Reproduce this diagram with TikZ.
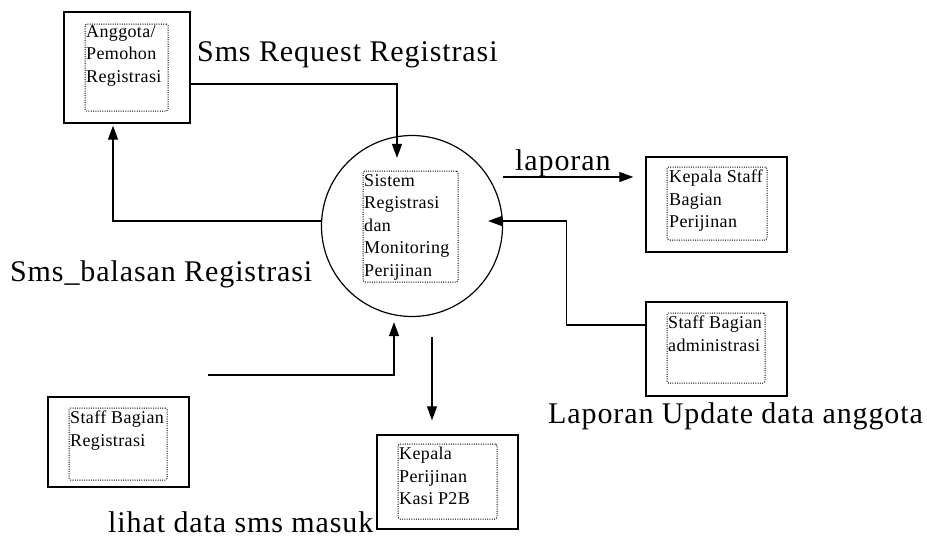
\documentclass[tikz,border=0pt]{standalone}
\usepackage{fontspec}
\setmainfont{Liberation Serif}
\usetikzlibrary{arrows.meta}
\begin{document}
\begin{tikzpicture}[x=1pt,y=-1pt,
  ent/.style={draw,line width=1.4pt,minimum width=#1,inner sep=0pt},
  dot/.style={draw,dash pattern=on 1pt off 1.3pt,line width=1pt,inner sep=0pt,rounded corners=1.5pt},
  small/.style={font=\fontsize{18}{22.5}\selectfont\addfontfeature{LetterSpace=2},align=left,inner sep=0pt,anchor=north west},
  lbl/.style={font=\fontsize{30}{34}\selectfont\addfontfeature{LetterSpace=3},inner sep=0pt,anchor=base west},
  conn/.style={line width=1.3pt},
  arr/.style={conn,-{Triangle[width=10pt,length=14pt]}}]
\useasboundingbox (0,0) rectangle (927,542);
% entities (outer boxes)
\node[ent=126pt,minimum height=111pt] (A) at (127,67.5) {};
\node[ent=141pt,minimum height=95pt] (KS) at (716.5,204.5) {};
\node[ent=141pt,minimum height=94pt] (SA) at (716.5,349) {};
\node[ent=141pt,minimum height=90pt] (SR) at (118.5,442) {};
\node[ent=141pt,minimum height=94pt] (KP) at (447.5,482) {};
% process circle
\node[draw,circle,line width=1.2pt,minimum size=181pt,inner sep=0pt] (C) at (412,226) {};
% dotted inner boxes
\node[dot,minimum width=83pt,minimum height=87pt] (Ad) at (126.5,67.5) {};
\node[dot,minimum width=100pt,minimum height=73pt] (KSd) at (717,203.5) {};
\node[dot,minimum width=98pt,minimum height=70pt] (SAd) at (716,348) {};
\node[dot,minimum width=98pt,minimum height=72pt] (SRd) at (118,444) {};
\node[dot,minimum width=99pt,minimum height=75pt] (KPd) at (447.5,481.5) {};
\node[dot,minimum width=95pt,minimum height=111pt] (Cd) at (410.5,226.5) {};
% texts
\node[small] (At) at (86,25) {Anggota/\\Pemohon\\Registrasi};
\node[small] (KSt) at (669,170) {Kepala Staff\\Bagian\\Perijinan};
\node[small] (SAt) at (668,316) {Staff Bagian\\administrasi};
\node[small] (SRt) at (70,411) {Staff Bagian\\Registrasi};
\node[small] (KPt) at (399,447) {Kepala\\Perijinan\\Kasi P2B};
\node[small] (Ct) at (364,174) {Sistem\\Registrasi\\dan\\Monitoring\\Perijinan};
% labels
\node[lbl] (L1) at (197,61) {Sms Request Registrasi};
\node[lbl] (L2) at (515,170) {laporan};
\node[lbl] (L3) at (10,281) {Sms\_balasan Registrasi};
\node[lbl] (L4) at (548,423) {Laporan Update data anggota};
\node[lbl] (L5) at (108,532) {lihat data sms masuk};
% connectors
\draw[arr] ([yshift=-16.5pt]A.east) -| ([xshift=-15pt,yshift=-23pt]C.north);
\draw[arr] ([yshift=49pt]C.east) -- ([xshift=-12pt,yshift=27.5pt]KS.west);
\draw[arr] ([yshift=24pt]SA.west) -- ++(-79,0) |- ([xshift=-15pt,yshift=5pt]C.east);
\draw[arr] ([yshift=5pt]C.west) -| ([xshift=-14pt,yshift=-2pt]A.south);
\coordinate (r0) at (208,375);
\draw[arr] (r0) -| ([xshift=-18pt,yshift=-5pt]C.south);
\draw[arr] ([xshift=20pt,yshift=-20pt]C.south) -- ([xshift=-15.5pt,yshift=14pt]KP.north);
\end{tikzpicture}
\end{document}
